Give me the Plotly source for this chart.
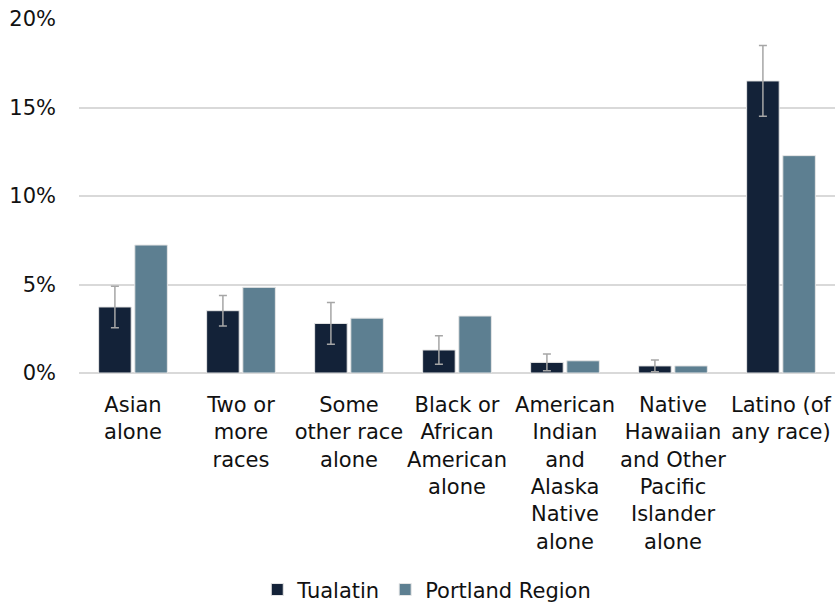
import plotly.graph_objects as go

categories = ["Asian<br>alone", "Two or<br>more<br>races", "Some<br>other race<br>alone",
              "Black or<br>African<br>American<br>alone", "American<br>Indian<br>and<br>Alaska<br>Native<br>alone",
              "Native<br>Hawaiian<br>and Other<br>Pacific<br>Islander<br>alone", "Latino (of<br>any race)"]
tualatin = [3.73, 3.52, 2.80, 1.30, 0.60, 0.40, 16.5]
tualatin_moe = [1.17, 0.86, 1.18, 0.81, 0.47, 0.33, 2.0]
portland = [7.23, 4.84, 3.10, 3.22, 0.69, 0.40, 12.28]
tick_vals = [0, 5, 10, 15, 20]
tick_text = ["0%", "5%", "10%", "15%", "20%"]

font_family = "DejaVu Sans, Liberation Sans, Arial"

fig = go.Figure()
fig.add_trace(go.Bar(
    x=categories, y=tualatin, name="Tualatin",
    marker=dict(color="#132238", line=dict(color="#e6e6e6", width=1)),
    error_y=dict(type="data", array=tualatin_moe, color="#a6a6a6", thickness=1.5, width=4),
))
fig.add_trace(go.Bar(
    x=categories, y=portland, name="Portland Region",
    marker=dict(color="#5d7f91", line=dict(color="#e6e6e6", width=1)),
))

fig.update_layout(
    width=837, height=605,
    paper_bgcolor="white", plot_bgcolor="white",
    margin=dict(l=79, r=2, t=19, b=232, pad=0),
    barmode="group", bargap=0.33, bargroupgap=0.1,
    font=dict(family=font_family, size=20, color="#111111"),
    showlegend=True,
    legend=dict(orientation="h", x=0.46, xanchor="center", yref="container",
                y=0.025, yanchor="middle", font=dict(size=21), traceorder="normal"),
    xaxis=dict(showgrid=False, showline=False, tickfont=dict(size=21), ticks="",
               tickangle=0, automargin=False, ticklabelstandoff=17),
    yaxis=dict(range=[0, 20], tickvals=tick_vals, ticktext=tick_text,
               showgrid=True, gridcolor="#d9d9d9", gridwidth=1.5, zeroline=True,
               zerolinecolor="#d9d9d9", zerolinewidth=1.5, showline=False,
               ticklabelstandoff=22, tickfont=dict(size=21), automargin=False),
)

post = (
    "var h=document.documentElement,b=document.body;"
    "h.style.margin='0';h.style.padding='0';h.style.overflow='hidden';"
    "b.style.margin='0';b.style.padding='0';b.style.overflow='hidden';"
)
fig.write_html("out.html", config={"displayModeBar": False}, post_script=post)
